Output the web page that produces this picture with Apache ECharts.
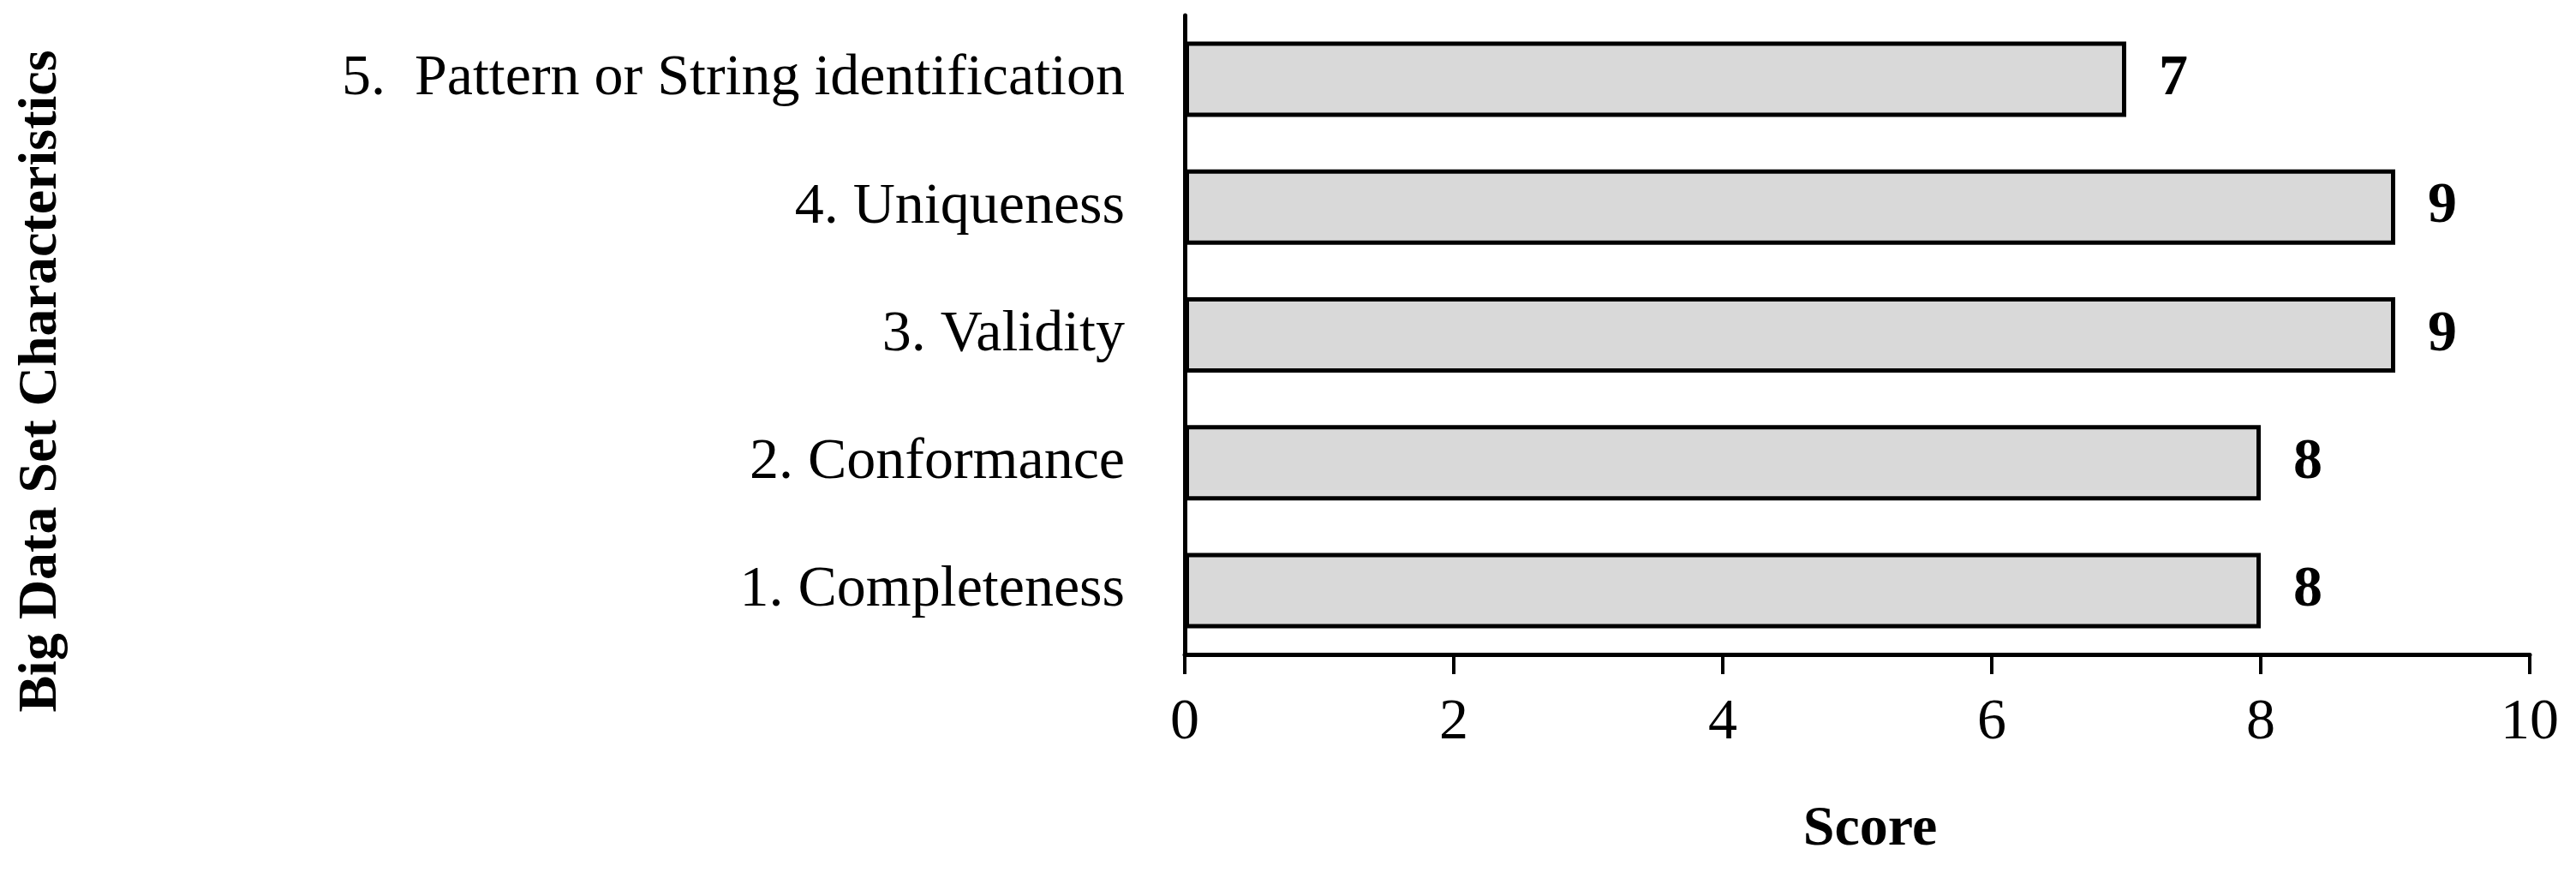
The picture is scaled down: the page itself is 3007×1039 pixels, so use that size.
<!DOCTYPE html>
<html>
<head>
<meta charset="utf-8">
<title>Big Data Set Characteristics</title>
<script src="https://cdn.jsdelivr.net/npm/echarts@6/dist/echarts.min.js"></script>
<style>
    html, body { margin: 0; padding: 0; background: #fff; }
    #chart { width: 3007px; height: 1039px; }
</style>
</head>
<body>
<div id="chart"></div>
<script>
// categories, bottom to top
const categories = [
    '1. Completeness',
    '2. Conformance',
    '3. Validity',
    '4. Uniqueness',
    '5.  Pattern or String identification'
];
// score of each characteristic
const scores = [8, 8, 9, 9, 7];
// x axis range
const scoreMin = 0;
const scoreMax = 10;
const scoreStep = 2;

const serif = "'Liberation Serif', 'Times New Roman', serif";

let chart = echarts.init(document.getElementById('chart'), null, {renderer: 'canvas'});

let option = {
    backgroundColor: '#ffffff',
    animation: false,
    grid: {
        left: 1383,
        right: 54,
        top: 18,
        bottom: 275
    },
    xAxis: {
        type: 'value',
        min: scoreMin,
        max: scoreMax,
        interval: scoreStep,
        name: 'Score',
        nameLocation: 'middle',
        nameGap: 172,
        nameTextStyle: {
            color: '#000',
            fontFamily: serif,
            fontWeight: 'bold',
            fontSize: 66,
            padding: [0, 0, 0, 30]
        },
        axisLine: {
            show: true,
            lineStyle: {color: '#000', width: 5}
        },
        axisTick: {
            show: true,
            length: 23,
            lineStyle: {color: '#000', width: 4}
        },
        axisLabel: {
            color: '#000',
            fontFamily: serif,
            fontSize: 68,
            margin: 46
        },
        splitLine: {show: false}
    },
    yAxis: {
        type: 'category',
        data: categories,
        name: 'Big Data Set Characteristics',
        nameLocation: 'middle',
        nameRotate: 90,
        nameGap: 1303,
        nameTextStyle: {
            color: '#000',
            fontFamily: serif,
            fontWeight: 'bold',
            fontSize: 64,
            padding: [0, 108, 0, 0]
        },
        axisLine: {
            show: true,
            lineStyle: {color: '#000', width: 5}
        },
        axisTick: {show: false},
        axisLabel: {
            color: '#000',
            fontFamily: serif,
            fontSize: 68,
            margin: 70
        },
        splitLine: {show: false}
    },
    series: [
        {
            type: 'bar',
            data: scores,
            barWidth: 88,
            itemStyle: {
                color: '#d9d9d9',
                borderColor: '#000',
                borderWidth: 5
            },
            label: {
                show: true,
                position: 'right',
                distance: 38,
                color: '#000',
                fontFamily: serif,
                fontWeight: 'bold',
                fontSize: 68
            }
        }
    ]
};
chart.setOption(option);
</script>
</body>
</html>
